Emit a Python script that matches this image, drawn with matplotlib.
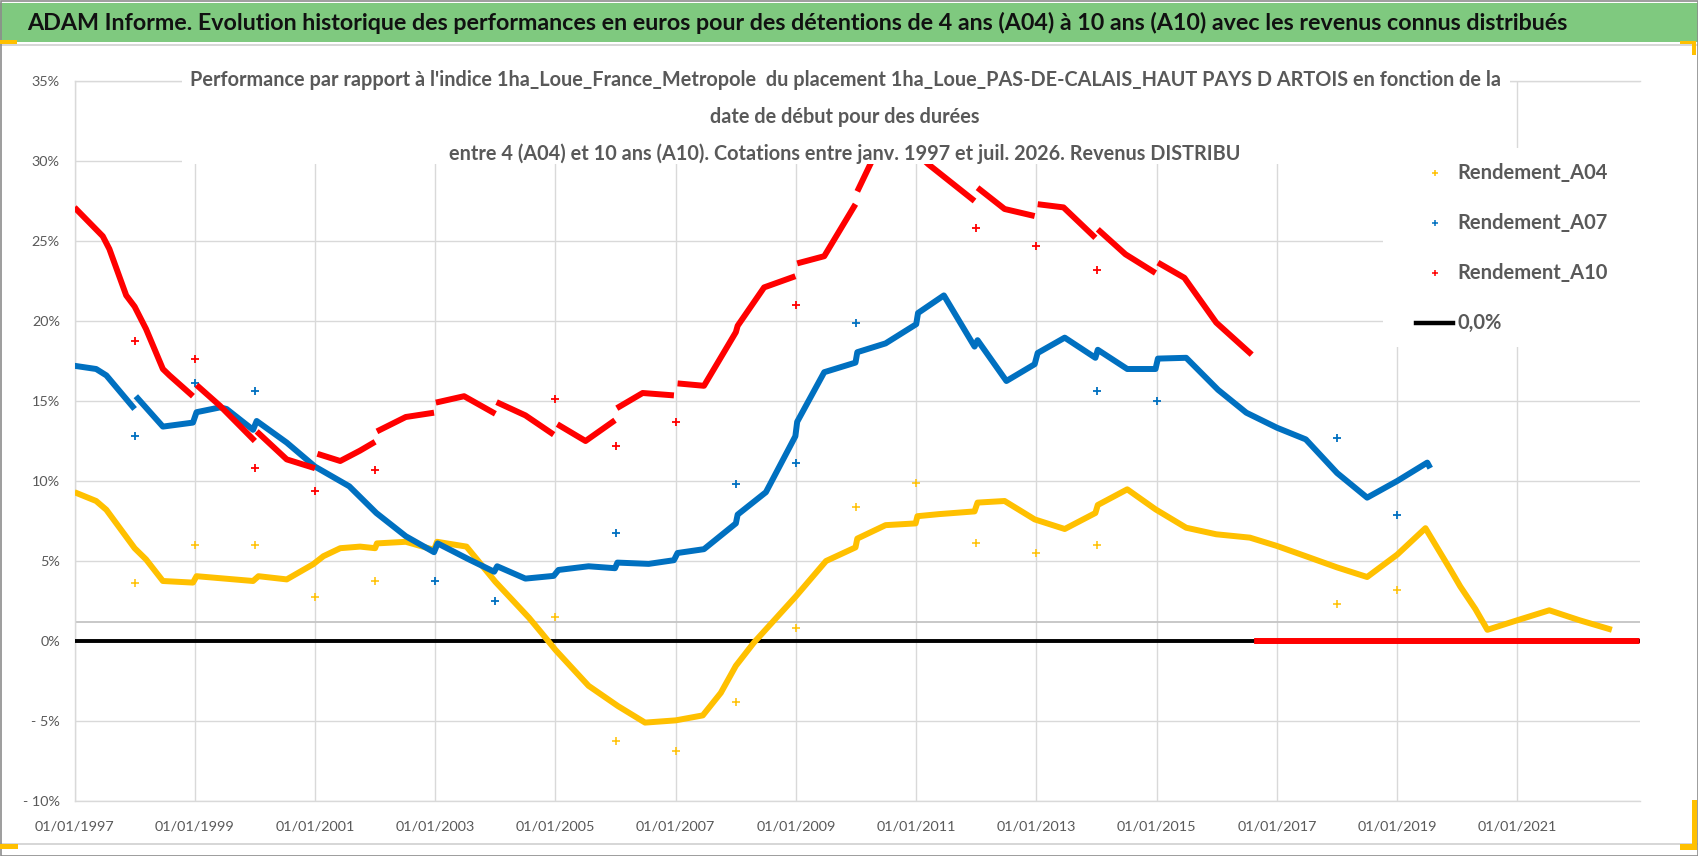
import numpy as np
import matplotlib
matplotlib.use("Agg")
import matplotlib.pyplot as plt
from matplotlib.patches import Rectangle
from matplotlib.lines import Line2D

# ---------------- texts ----------------
banner_title = ("ADAM Informe. Evolution historique des performances en euros pour des détentions "
                "de 4 ans (A04) à 10 ans (A10) avec les revenus connus distribués")
chart_title_lines = [
    "Performance par rapport à l'indice 1ha_Loue_France_Metropole  du placement "
    "1ha_Loue_PAS-DE-CALAIS_HAUT PAYS D ARTOIS en fonction de la",
    "date de début pour des durées",
    "entre 4 (A04) et 10 ans (A10). Cotations entre janv. 1997 et juil. 2026. Revenus DISTRIBU",
]
series_names = ["Rendement_A04", "Rendement_A07", "Rendement_A10", "0,0%"]
series_colors = ["#FFC000", "#0070C0", "#FF0000", "#000000"]

x_tick_years = [1997, 1999, 2001, 2003, 2005, 2007, 2009, 2011, 2013, 2015, 2017, 2019, 2021]
x_tick_labels = ["01/01/1997", "01/01/1999", "01/01/2001", "01/01/2003", "01/01/2005",
                 "01/01/2007", "01/01/2009", "01/01/2011", "01/01/2013", "01/01/2015",
                 "01/01/2017", "01/01/2019", "01/01/2021"]
y_ticks = [-10, -5, 0, 5, 10, 15, 20, 25, 30, 35]
y_tick_labels = ["- 10%", "- 5%", "0%", "5%", "10%", "15%", "20%", "25%", "30%", "35%"]
x_range = [1997.0, 2023.03]
y_range = [-10, 35]

# ---------------- series (decimal year, % ; None = gap) ----------------
a04_years = [1997.00, 1997.36, 1997.53, 1998.00, 1998.19, 1998.47, 1998.97, 1999.03, 1999.50, 1999.97,
             2000.06, 2000.53, 2000.97, 2001.14, 2001.42, 2001.75, 2002.00, 2002.03, 2002.51, 2002.98,
             2003.03, 2003.52, 2004.00, 2004.56, 2004.77, 2005.00, 2005.55, 2006.04, 2006.49, 2007.00,
             2007.45, 2007.75, 2008.00, 2008.30, 2009.00, 2009.50, 2009.99, 2010.02, 2010.49, 2010.99,
             2011.02, 2011.38, 2011.97, 2012.02, 2012.47, 2012.97, 2013.47, 2013.98, 2014.02, 2014.51,
             2014.98, 2015.49, 2015.99, 2016.55, 2017.00, 2017.48, 2018.00, 2018.50, 2019.00, 2019.47,
             2019.91, 2020.05, 2020.30, 2020.50, 2021.00, 2021.53, 2022.03, 2022.57]
a04_values = [9.3, 8.75, 8.2, 5.8, 5.1, 3.75, 3.65, 4.05, 3.9, 3.75,
              4.05, 3.85, 4.8, 5.3, 5.8, 5.9, 5.8, 6.1, 6.2, 5.7,
              6.2, 5.9, 3.7, 1.45, 0.5, -0.56, -2.8, -4.07, -5.1, -4.96,
              -4.65, -3.24, -1.55, -0.1, 2.8, 5.0, 5.85, 6.4, 7.24, 7.35,
              7.8, 7.93, 8.1, 8.65, 8.75, 7.6, 7.0, 8.0, 8.5, 9.48,
              8.23, 7.08, 6.67, 6.46, 5.94, 5.3, 4.6, 4.0, 5.4, 7.05,
              4.3, 3.4, 2.0, 0.7, 1.3, 1.92, 1.3, 0.7]

a07_years = [1997.00, 1997.36, 1997.53, 1998.00, None, 1998.02, 1998.47, 1998.97, 1999.03, 1999.42, 1999.53,
             1999.97, 2000.03, 2000.53, 2001.00, 2001.57, 2002.02, 2002.51, 2002.98, 2003.04, 2003.56,
             2003.98, 2004.03, 2004.50, 2004.97, 2005.05, 2005.55, 2005.99, 2006.03, 2006.55, 2006.97,
             2007.03, 2007.47, 2008.00, 2008.03, 2008.50, 2008.99, 2009.02, 2009.47, 2009.99, 2010.02,
             2010.49, 2011.00, 2011.03, 2011.46, 2011.97, 2012.02, 2012.50, 2012.97, 2013.02, 2013.47,
             2013.98, 2014.02, 2014.51, 2014.98, 2015.02, 2015.49, 2016.02, 2016.49, 2017.00, 2017.48,
             2018.00, 2018.50, 2019.00, 2019.50, 2019.55]
a07_values = [17.2, 17.0, 16.6, 14.5, None, 15.3, 13.4, 13.65, 14.3, 14.6, 14.5,
              13.2, 13.75, 12.4, 10.9, 9.67, 8.0, 6.55, 5.55, 6.1, 5.1,
              4.33, 4.67, 3.9, 4.07, 4.44, 4.67, 4.55, 4.9, 4.82, 5.05,
              5.5, 5.74, 7.35, 7.9, 9.3, 12.8, 13.7, 16.8, 17.4, 18.05,
              18.6, 19.8, 20.5, 21.6, 18.4, 18.8, 16.25, 17.3, 18.0, 18.96,
              17.7, 18.2, 17.0, 17.0, 17.65, 17.7, 15.7, 14.27, 13.33, 12.6,
              10.5, 8.96, 10.0, 11.15, 10.8]

a10_years = [1997.00, 1997.47, 1997.58, 1997.86, 1998.00, 1998.19, 1998.47, 1998.58, 1998.97, None,
             1999.03, 1999.42, 2000.00, None,
             2000.03, 2000.53, 2001.00, None,
             2001.04, 2001.42, 2001.75, 2002.00, None,
             2002.03, 2002.51, 2002.98, None,
             2003.01, 2003.48, 2004.00, None,
             2004.02, 2004.50, 2004.97, None,
             2005.03, 2005.50, 2005.99, None,
             2006.02, 2006.45, 2006.97, None,
             2007.03, 2007.47, 2008.00, 2008.03, 2008.47, 2008.99, None,
             2009.02, 2009.47, 2009.99, None,
             2010.02, 2010.30, 2010.95, None,
             2011.03, 2011.20, 2011.97, None,
             2012.02, 2012.47, 2012.97, None,
             2013.02, 2013.45, 2013.98, None,
             2014.02, 2014.48, 2014.98, None,
             2015.02, 2015.46, 2015.99, 2016.58, None,
             2016.62, 2023.03]
a10_values = [27.1, 25.3, 24.5, 21.6, 20.9, 19.5, 17.0, 16.6, 15.3, None,
              16.0, 14.7, 12.5, None,
              13.1, 11.35, 10.8, None,
              11.7, 11.25, 11.9, 12.45, None,
              13.1, 14.0, 14.27, None,
              14.9, 15.3, 14.2, None,
              14.93, 14.1, 12.9, None,
              13.55, 12.5, 13.8, None,
              14.55, 15.5, 15.35, None,
              16.1, 15.95, 19.3, 19.7, 22.1, 22.8, None,
              23.6, 24.05, 27.3, None,
              28.1, 30.3, 30.2, None,
              30.4, 29.8, 27.5, None,
              28.33, 27.0, 26.56, None,
              27.3, 27.1, 25.2, None,
              25.73, 24.17, 23.0, None,
              23.65, 22.7, 19.9, 17.9, None,
              0.0, 0.0]

zero_years = [1997.0, 2023.03]
zero_values = [0.0, 0.0]

# isolated points (1st of January of some years)
a04_out_years = [1998, 1999, 2000, 2001, 2002, 2005, 2006, 2007, 2008, 2009, 2010, 2011, 2012, 2013, 2014, 2018, 2019]
a04_out_values = [3.6, 6.0, 6.0, 2.75, 3.75, 1.5, -6.25, -6.9, -3.8, 0.8, 8.35, 9.85, 6.15, 5.5, 6.0, 2.3, 3.2]
a07_out_years = [1998, 1999, 2000, 2003, 2004, 2006, 2008, 2009, 2010, 2014, 2015, 2018, 2019]
a07_out_values = [12.8, 16.15, 15.6, 3.75, 2.5, 6.75, 9.8, 11.15, 19.9, 15.6, 15.0, 12.7, 7.9]
a10_out_years = [1998, 1999, 2000, 2001, 2002, 2005, 2006, 2007, 2009, 2012, 2013, 2014]
a10_out_values = [18.75, 17.65, 10.8, 9.4, 10.7, 15.15, 12.2, 13.7, 21.0, 25.8, 24.7, 23.2]


def arr(v):
    return np.array([np.nan if e is None else e for e in v], dtype=float)


# ---------------- figure ----------------
W, H, DPI = 1698, 856, 100
plt.rcParams["font.family"] = ["Lato", "DejaVu Sans"]
TXT = "#595959"
GRID = "#d9d9d9"

fig = plt.figure(figsize=(W / DPI, H / DPI), dpi=DPI)
fig.patch.set_facecolor("white")
renderer = fig.canvas.get_renderer()


def prect(x0, y0, x1, y1, **kw):
    return Rectangle((x0 / W, 1 - y1 / H), (x1 - x0) / W, (y1 - y0) / H,
                     transform=fig.transFigure, **kw)


def fit(t, target):
    w = t.get_window_extent(renderer).width
    t.set_fontsize(t.get_fontsize() * target / w)
    return t.get_fontsize()


# banner
fig.add_artist(prect(0, 3, W, 42, facecolor="#7fc97f", edgecolor="none", zorder=1))
fig.add_artist(Line2D([0, 1], [1 - 44.5 / H] * 2, color="#d0d0d0", lw=1.2, transform=fig.transFigure, zorder=1))
fig.add_artist(Line2D([0, 1], [1 - 843.5 / H] * 2, color="#d0d0d0", lw=1.2, transform=fig.transFigure, zorder=1))
bt = fig.text(27 / W, 1 - 23 / H, banner_title, ha="left", va="center", fontsize=16,
              fontweight="bold", color="#111111", zorder=6)
fit(bt, 1548)

# outer border + selection handles
fig.add_artist(prect(0.5, 0.5, W - 0.5, H - 0.5, facecolor="none", edgecolor="#8c8c8c", lw=1.2, zorder=7))
for (x0, y0, x1, y1) in [(0, 40, 17, 44), (1680, 41, 1696, 44), (1692, 41, 1696, 55),
                         (1692, 800, 1697, 850), (1680, 844, 1697, 850), (0, 844, 18, 849)]:
    fig.add_artist(prect(x0, y0, x1, y1, facecolor="#FFC000", edgecolor="none", zorder=8))

# axes
L, R, T, B = 74.5, 1639.5, 81, 801
ax = fig.add_axes([L / W, 1 - B / H, (R - L) / W, (B - T) / H])
ax.set_facecolor("white")
ax.set_xlim(*x_range)
ax.set_ylim(*y_range)

tmp = fig.text(0, 0, "01/01/1997", fontsize=11)
tick_fs = fit(tmp, 80)
tmp.remove()

ax.set_xticks(x_tick_years, x_tick_labels)
ax.set_yticks(y_ticks, y_tick_labels)
ax.tick_params(axis="both", length=0, labelsize=tick_fs, labelcolor=TXT)
ax.tick_params(axis="x", pad=14)
ax.tick_params(axis="y", pad=10.5)
ax.grid(True, color=GRID, lw=1.0)
ax.set_axisbelow(True)
for s in ["left", "bottom", "top"]:
    ax.spines[s].set_color(GRID)
    ax.spines[s].set_linewidth(1.0)
ax.spines["right"].set_visible(False)
ax.axhline(1.16, color="#c4c4c4", lw=1.3, zorder=1)

# series
ax.plot(arr(zero_years), arr(zero_values), color=series_colors[3], lw=2.8, zorder=3,
        solid_capstyle="butt")
ax.plot(arr(a04_years), arr(a04_values), color=series_colors[0], lw=4.3, zorder=4,
        solid_capstyle="butt", solid_joinstyle="round")
ax.plot(arr(a07_years), arr(a07_values), color=series_colors[1], lw=4.3, zorder=5,
        solid_capstyle="butt", solid_joinstyle="round")
ax.plot(arr(a10_years), arr(a10_values), color=series_colors[2], lw=4.3, zorder=6,
        solid_capstyle="butt", solid_joinstyle="round")
ax.plot(a04_out_years, a04_out_values, ls="none", marker="+", ms=6, mew=1.1, color=series_colors[0], zorder=4)
ax.plot(a07_out_years, a07_out_values, ls="none", marker="+", ms=6, mew=1.3, color=series_colors[1], zorder=5)
ax.plot(a10_out_years, a10_out_values, ls="none", marker="+", ms=6, mew=1.3, color=series_colors[2], zorder=6)

# chart title (white box over the plot)
fig.add_artist(prect(182, 60, 1510, 163.5, facecolor="white", edgecolor="none", zorder=4))
title_y = [80, 117, 154]
t0 = fig.text(845 / W, 1 - title_y[0] / H, chart_title_lines[0], ha="center", va="center",
              fontsize=14, fontweight="bold", color=TXT, zorder=6)
title_fs = fit(t0, 1316)
for line, y in zip(chart_title_lines[1:], title_y[1:]):
    fig.text(845 / W, 1 - y / H, line, ha="center", va="center", fontsize=title_fs,
             fontweight="bold", color=TXT, zorder=6)

# legend
fig.add_artist(prect(1383, 148, 1650, 347, facecolor="white", edgecolor="none", zorder=4))
leg_y = [173, 223, 273, 323]
tmp = fig.text(0, 0, "Rendement_A04", fontsize=14, fontweight="bold")
leg_fs = fit(tmp, 151)
tmp.remove()
for i in range(3):
    fig.add_artist(Line2D([1435 / W], [1 - leg_y[i] / H], marker="+", ms=5, mew=1.1,
                          color=series_colors[i], transform=fig.transFigure, zorder=6))
fig.add_artist(Line2D([1416 / W, 1453 / W], [1 - leg_y[3] / H] * 2, color=series_colors[3], lw=3.2,
                      transform=fig.transFigure, zorder=6))
for name, y in zip(series_names, leg_y):
    fig.text(1457 / W, 1 - y / H, name, ha="left", va="center", fontsize=leg_fs,
             fontweight="bold", color=TXT, zorder=6)

fig.savefig("out.png", dpi=DPI, facecolor="white")
